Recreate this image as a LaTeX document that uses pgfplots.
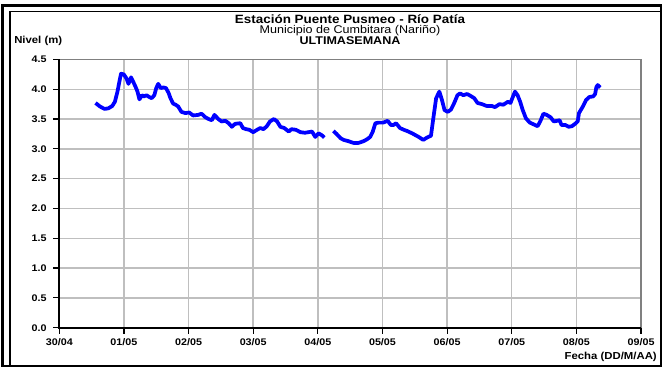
\documentclass[border=0pt]{standalone}
\usepackage{pgfplots}
\pgfplotsset{compat=1.18}
\usepackage{fontspec}
\setmainfont{Liberation Sans}[FakeStretch=1.12]

\pgfplotstableread{
d v
0.56 3.77
0.63 3.71
0.70 3.67
0.76 3.68
0.82 3.72
0.86 3.79
0.90 3.96
0.93 4.13
0.955 4.26
0.997 4.25
1.04 4.18
1.07 4.09
1.11 4.20
1.15 4.11
1.18 4.04
1.21 3.96
1.24 3.83
1.28 3.90
1.31 3.88
1.35 3.90
1.39 3.87
1.43 3.85
1.47 3.90
1.50 4.02
1.53 4.09
1.57 4.02
1.61 4.03
1.65 4.02
1.69 3.94
1.72 3.85
1.76 3.76
1.80 3.74
1.84 3.71
1.89 3.62
1.95 3.60
2.01 3.61
2.07 3.56
2.15 3.57
2.20 3.59
2.26 3.53
2.31 3.50
2.36 3.48
2.40 3.57
2.46 3.50
2.51 3.46
2.57 3.47
2.62 3.43
2.67 3.37
2.72 3.42
2.80 3.43
2.84 3.35
2.89 3.33
2.94 3.32
3.00 3.28
3.06 3.32
3.11 3.35
3.16 3.33
3.21 3.38
3.26 3.46
3.32 3.50
3.37 3.46
3.42 3.37
3.48 3.35
3.55 3.29
3.59 3.33
3.66 3.32
3.73 3.28
3.80 3.27
3.91 3.29
3.96 3.20
4.01 3.26
4.06 3.23
4.10 3.19
}\tramoa

\pgfplotstableread{
d v
4.24 3.30
4.29 3.25
4.35 3.18
4.40 3.15
4.47 3.13
4.55 3.10
4.63 3.10
4.71 3.13
4.76 3.16
4.81 3.20
4.85 3.29
4.89 3.43
4.94 3.44
5.01 3.44
5.08 3.47
5.13 3.40
5.17 3.40
5.21 3.43
5.27 3.35
5.33 3.32
5.38 3.30
5.46 3.26
5.56 3.20
5.63 3.15
5.69 3.19
5.75 3.22
5.79 3.54
5.83 3.85
5.88 3.96
5.92 3.82
5.96 3.65
6.01 3.62
6.06 3.66
6.11 3.77
6.16 3.90
6.20 3.93
6.25 3.90
6.31 3.92
6.36 3.89
6.42 3.85
6.47 3.77
6.54 3.75
6.61 3.72
6.69 3.72
6.74 3.70
6.81 3.75
6.87 3.74
6.94 3.79
6.98 3.77
7.02 3.88
7.05 3.96
7.09 3.90
7.13 3.79
7.17 3.65
7.22 3.51
7.28 3.44
7.34 3.41
7.40 3.38
7.44 3.46
7.49 3.59
7.54 3.57
7.60 3.53
7.65 3.46
7.70 3.47
7.74 3.48
7.77 3.40
7.83 3.40
7.88 3.37
7.93 3.38
7.98 3.42
8.02 3.46
8.04 3.60
8.10 3.71
8.15 3.82
8.20 3.87
8.26 3.88
8.29 3.92
8.31 4.04
8.33 4.07
8.37 4.03
}\tramob

\begin{document}
\begin{tikzpicture}[x=0.75pt,y=0.75pt]
\path (0,0) rectangle (663,370);
% marco doble
\draw[line width=1.6pt] (2.5,4) rectangle (661,364.5);
\draw[line width=1.2pt] (10,4) -- (10,358.5) -- (661,358.5);

\begin{axis}[
    at={(44.475pt,31.725pt)}, anchor=south west,
    scale only axis,
    width=436.3pt, height=201.2pt,
    xmin=0, xmax=9, ymin=0, ymax=4.5,
    xtick={0,...,9},
    xticklabels={30/04,01/05,02/05,03/05,04/05,05/05,06/05,07/05,08/05,09/05},
    ytick={0,0.5,...,4.5},
    y tick label style={/pgf/number format/fixed, /pgf/number format/fixed zerofill,
        /pgf/number format/precision=1, xshift=-1.5pt},
    /pgf/number format/assume math mode=true,
    ticklabel style={font=\fontsize{7.2}{8}\selectfont\bfseries},
    tick pos=left,
    tick align=outside,
    major tick length=4.5pt,
    tick style={black, line width=0.9pt},
    grid=major,
    major grid style={line width=1.1pt, color=black!25},
    axis line style={line width=1.1pt, color=black!50},
    clip=false,
]
\addplot[blue, line width=2.8pt, line join=round] table[x=d,y=v] {\tramoa};
\addplot[blue, line width=2.8pt, line join=round] table[x=d,y=v] {\tramob};
\draw[black, line width=1.5pt] (rel axis cs:0,1) -- (rel axis cs:0,0) -- (rel axis cs:1,0);
\end{axis}

\node[font=\fontsize{9}{10}\selectfont\bfseries] at (350,351) {Estación Puente Pusmeo - Río Patía};
\node[font=\fontsize{8.4}{10}\selectfont] at (350,339) {Municipio de Cumbitara (Nariño)};
\node[font=\fontsize{8.4}{10}\selectfont\bfseries] at (350,329) {ULTIMASEMANA};
\node[font=\fontsize{7.6}{9}\selectfont\bfseries, anchor=west, inner sep=0pt] at (14,329) {Nivel (m)};
\node[font=\fontsize{7.6}{9}\selectfont\bfseries, anchor=east, inner sep=0pt] at (657,13) {Fecha (DD/M/AA)};
\end{tikzpicture}
\end{document}
